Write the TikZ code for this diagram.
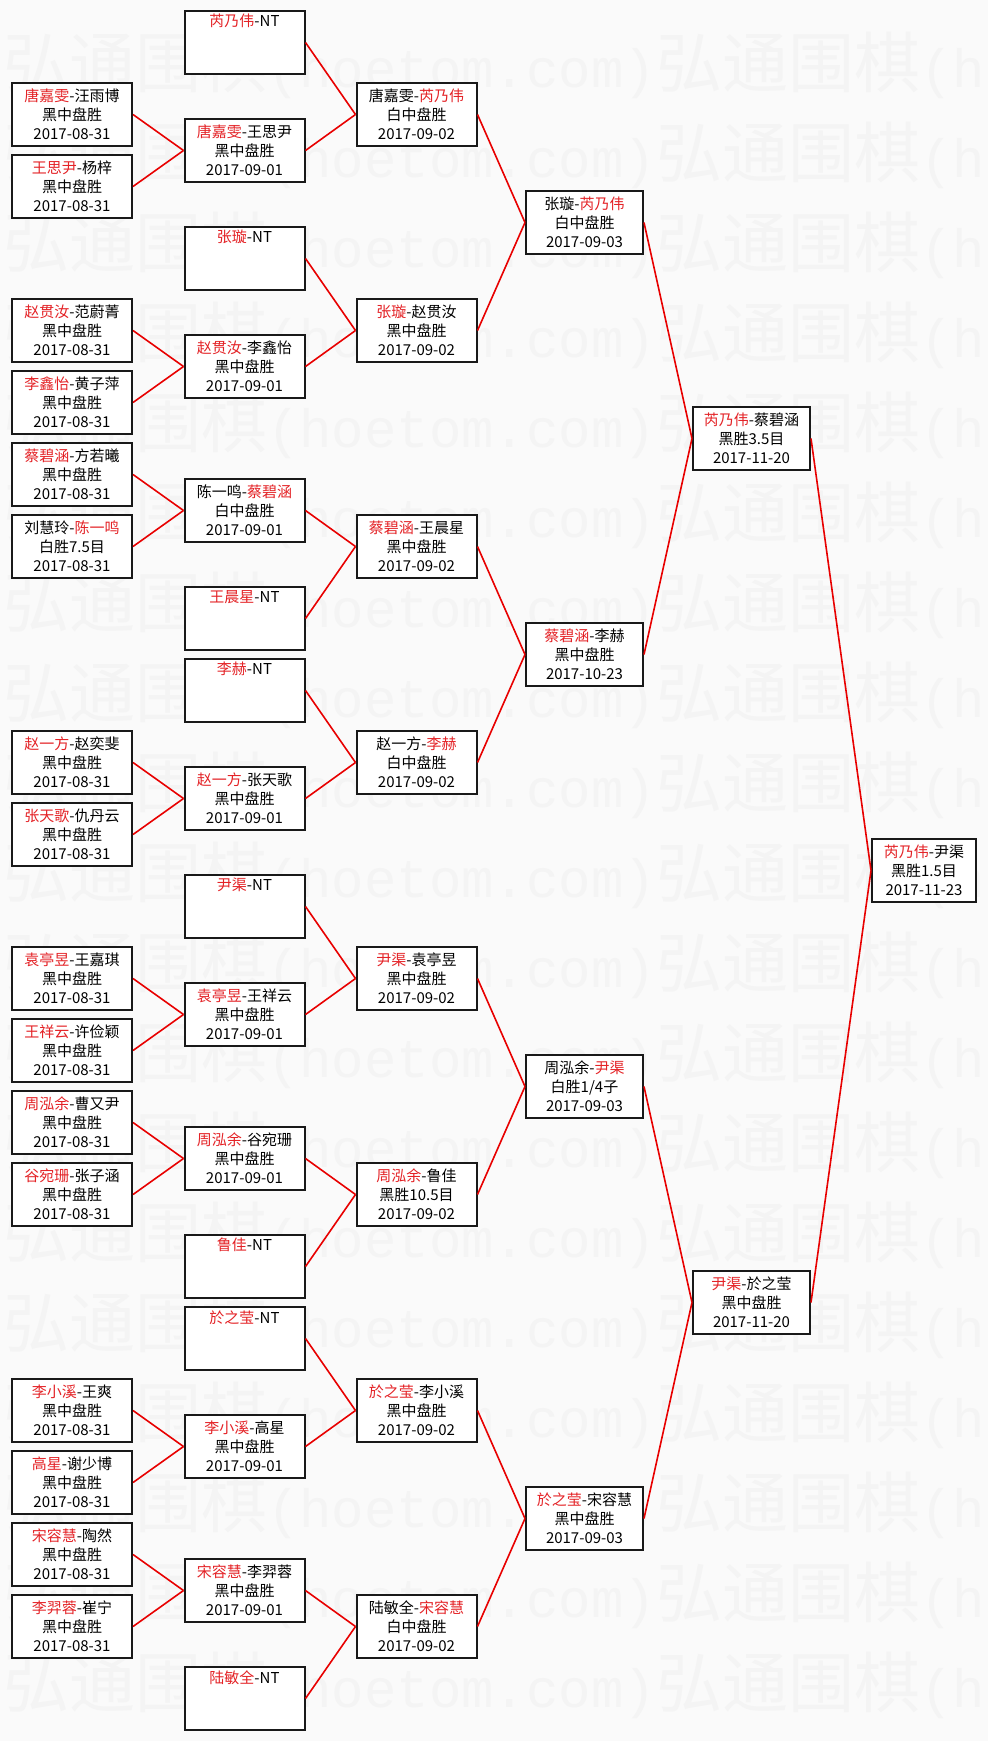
\documentclass[tikz,border=0pt]{standalone}
\usepackage{fontspec}
\setmainfont{Noto Sans CJK SC}
\newfontfamily\wmfont{Liberation Mono}
\definecolor{WinRed}{RGB}{228, 34, 38}
\definecolor{LinkRed}{RGB}{232, 0, 0}
\definecolor{PageGray}{RGB}{250, 250, 250}
\definecolor{MarkGray}{RGB}{244, 244, 244}
\newcommand{\win}[1]{\textcolor{WinRed}{#1}}
\newcommand{\hoetom}{弘通围棋{\wmfont\fontsize{54}{54}\selectfont(hoetom.com)}}
\newcommand{\hoetomcut}{弘通围棋{\wmfont\fontsize{54}{54}\selectfont(h}}

\begin{document}
\begin{tikzpicture}[x=1pt,y=-1pt,
                game/.style={draw=black!90,fill=white,line width=2pt,minimum width=120pt,minimum height=63pt,
                             inner sep=0pt,align=center,font=\fontsize{15}{19}\selectfont},
                late/.style={game,minimum width=117pt},
                final/.style={game,minimum width=104pt},
                wmark/.style={anchor=west,inner sep=0pt,text=MarkGray,font=\fontsize{66}{66}\selectfont},
                link/.style={LinkRed,line width=1.6pt}
            ]
                \useasboundingbox[fill=PageGray] (0,0) rectangle (988,1741);
                % Watermark rows
                \foreach \j in {0,...,18} { \node[wmark] (wm\j) at (3,{65+90*\j}) {\hoetom\hoetomcut}; }
                % Round 1: 2017-08-31
                \foreach \r/\p/\s in {0/{\win{唐嘉雯}-汪雨博}/黑中盘胜, 2/{\win{王思尹}-杨梓}/黑中盘胜,
                                      6/{\win{赵贯汝}-范蔚菁}/黑中盘胜, 8/{\win{李鑫怡}-黄子萍}/黑中盘胜,
                                      10/{\win{蔡碧涵}-方若曦}/黑中盘胜, 12/{刘慧玲-\win{陈一鸣}}/白胜7.5目,
                                      18/{\win{赵一方}-赵奕斐}/黑中盘胜, 20/{\win{张天歌}-仇丹云}/黑中盘胜,
                                      24/{\win{袁亭昱}-王嘉琪}/黑中盘胜, 26/{\win{王祥云}-许俭颖}/黑中盘胜,
                                      28/{\win{周泓余}-曹又尹}/黑中盘胜, 30/{\win{谷宛珊}-张子涵}/黑中盘胜,
                                      36/{\win{李小溪}-王爽}/黑中盘胜, 38/{\win{高星}-谢少博}/黑中盘胜,
                                      40/{\win{宋容慧}-陶然}/黑中盘胜, 42/{\win{李羿蓉}-崔宁}/黑中盘胜} {
                    \node[game] (a\r) at (72,{114.5+36*\r}) {\p\\\s\\2017-08-31};
                }
                % Round 2: 2017-09-01, byes marked NT
                \foreach \r/\p/\s in {1/{\win{唐嘉雯}-王思尹}/黑中盘胜, 7/{\win{赵贯汝}-李鑫怡}/黑中盘胜,
                                      11/{陈一鸣-\win{蔡碧涵}}/白中盘胜, 19/{\win{赵一方}-张天歌}/黑中盘胜,
                                      25/{\win{袁亭昱}-王祥云}/黑中盘胜, 29/{\win{周泓余}-谷宛珊}/黑中盘胜,
                                      37/{\win{李小溪}-高星}/黑中盘胜, 41/{\win{宋容慧}-李羿蓉}/黑中盘胜} {
                    \node[game] (b\r) at (244.5,{114.5+36*\r}) {\p\\\s\\2017-09-01};
                }
                \foreach \r/\p in {-2/芮乃伟, 4/张璇, 14/王晨星, 16/李赫, 22/尹渠, 32/鲁佳, 34/於之莹, 44/陆敏全} {
                    \node[game] (b\r) at (244.5,{114.5+36*\r}) {\win{\p}-NT\\\strut\\\strut};
                }
                % Round 3: 2017-09-02
                \foreach \r/\p/\s in {0/{唐嘉雯-\win{芮乃伟}}/白中盘胜, 6/{\win{张璇}-赵贯汝}/黑中盘胜,
                                      12/{\win{蔡碧涵}-王晨星}/黑中盘胜, 18/{赵一方-\win{李赫}}/白中盘胜,
                                      24/{\win{尹渠}-袁亭昱}/黑中盘胜, 30/{\win{周泓余}-鲁佳}/黑胜10.5目,
                                      36/{\win{於之莹}-李小溪}/黑中盘胜, 42/{陆敏全-\win{宋容慧}}/白中盘胜} {
                    \node[game] (c\r) at (416.5,{114.5+36*\r}) {\p\\\s\\2017-09-02};
                }
                % Quarter finals
                \foreach \r/\p/\s/\d in {3/{张璇-\win{芮乃伟}}/白中盘胜/2017-09-03, 15/{\win{蔡碧涵}-李赫}/黑中盘胜/2017-10-23,
                                         27/{周泓余-\win{尹渠}}/{白胜1/4子}/2017-09-03, 39/{\win{於之莹}-宋容慧}/黑中盘胜/2017-09-03} {
                    \node[late] (d\r) at (584.5,{114.5+36*\r}) {\p\\\s\\\d};
                }
                % Semi finals and final
                \node[late] (e9) at (751.5,{114.5+36*9}) {\win{芮乃伟}-蔡碧涵\\黑胜3.5目\\2017-11-20};
                \node[late] (e33) at (751.5,{114.5+36*33}) {\win{尹渠}-於之莹\\黑中盘胜\\2017-11-20};
                \node[final] (f21) at (924,{114.5+36*21}) {\win{芮乃伟}-尹渠\\黑胜1.5目\\2017-11-23};
                % Bracket links
                \foreach \u/\v in {a0/b1, a2/b1, a6/b7, a8/b7, a10/b11, a12/b11, a18/b19, a20/b19,
                                   a24/b25, a26/b25, a28/b29, a30/b29, a36/b37, a38/b37, a40/b41, a42/b41,
                                   b-2/c0, b1/c0, b4/c6, b7/c6, b11/c12, b14/c12, b16/c18, b19/c18,
                                   b22/c24, b25/c24, b29/c30, b32/c30, b34/c36, b37/c36, b41/c42, b44/c42,
                                   c0/d3, c6/d3, c12/d15, c18/d15, c24/d27, c30/d27, c36/d39, c42/d39,
                                   d3/e9, d15/e9, d27/e33, d39/e33, e9/f21, e33/f21} {
                    \draw[link] (\u.east)--(\v.west);
                }
            \end{tikzpicture}
\end{document}
